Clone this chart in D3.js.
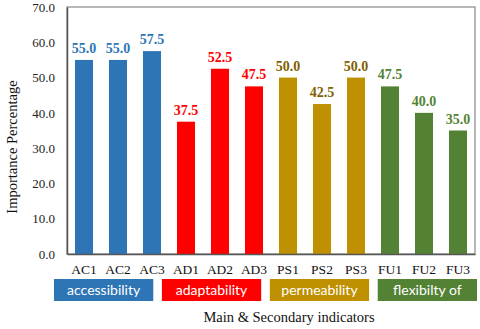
<!DOCTYPE html>
<html>
<head>
<meta charset="utf-8">
<script src="https://cdn.jsdelivr.net/npm/d3@7"></script>
<style>
  body { margin: 0; background: #fff; }
  svg { display: block; }
</style>
</head>
<body>
<div id="chart"></div>
<script>
// indicators, grouped three per main criterion
var categories = ["AC1", "AC2", "AC3", "AD1", "AD2", "AD3", "PS1", "PS2", "PS3", "FU1", "FU2", "FU3"];
var values = [55.0, 55.0, 57.5, 37.5, 52.5, 47.5, 50.0, 42.5, 50.0, 47.5, 40.0, 35.0];
var groups = ["accessibility", "adaptability", "permeability", "flexibilty of"];
var groupOf = ["accessibility", "accessibility", "accessibility",
    "adaptability", "adaptability", "adaptability",
    "permeability", "permeability", "permeability",
    "flexibilty of", "flexibilty of", "flexibilty of"];
var yTicks = [0, 10, 20, 30, 40, 50, 60, 70];

var width = 480;
var height = 329;
var margin = {top: 7, right: 5, bottom: 75, left: 67};

var barColor = d3.scaleOrdinal()
    .domain(groups)
    .range(["#2e75b6", "#ff0000", "#bf9000", "#548235"]);
var labelColor = d3.scaleOrdinal()
    .domain(groups)
    .range(["#2e75b6", "#ff0000", "#7f6000", "#548235"]);

var svg = d3.select('#chart')
    .append('svg')
    .attr('width', width)
    .attr('height', height);

var x = d3.scaleBand()
    .domain(categories)
    .range([margin.left, width - margin.right])
    .paddingInner(0.47)
    .paddingOuter(0.235);

var y = d3.scaleLinear()
    .domain([0, 70])
    .range([height - margin.bottom, margin.top]);

// plot frame
svg.append('rect')
    .attr('x', margin.left)
    .attr('y', margin.top)
    .attr('width', width - margin.right - margin.left)
    .attr('height', y(0) - margin.top)
    .attr('fill', 'none')
    .attr('stroke', '#888')
    .attr('stroke-width', 1.2);

var data = categories.map(function (c, i) {
    return {name: c, value: values[i], group: groupOf[i]};
});

svg.selectAll('.bar')
    .data(data)
    .enter()
    .append('rect')
    .attr('class', 'bar')
    .attr('x', function (d) { return x(d.name); })
    .attr('y', function (d) { return y(d.value); })
    .attr('width', x.bandwidth())
    .attr('height', function (d) { return y(0) - y(d.value); })
    .attr('fill', function (d) { return barColor(d.group); });

svg.selectAll('.val')
    .data(data)
    .enter()
    .append('text')
    .attr('class', 'val')
    .attr('x', function (d) { return x(d.name) + x.bandwidth() / 2; })
    .attr('y', function (d) { return y(d.value) - 7; })
    .attr('text-anchor', 'middle')
    .style('font-family', '"Liberation Serif", serif')
    .style('font-weight', 'bold')
    .style('font-size', '14px')
    .attr('fill', function (d) { return labelColor(d.group); })
    .text(function (d) { return d.value.toFixed(1); });

// y axis
var yAxis = svg.append('g')
    .attr('transform', 'translate(' + margin.left + ',0)')
    .call(d3.axisLeft(y).tickValues(yTicks).tickSize(0).tickPadding(12)
        .tickFormat(function (d) { return d.toFixed(1); }));
yAxis.select('.domain').attr('stroke', '#555').attr('stroke-width', 1.5);
yAxis.selectAll('text')
    .style('font-family', '"Liberation Serif", serif')
    .style('font-size', '13px')
    .attr('fill', '#222');

// x axis
var xAxis = svg.append('g')
    .attr('transform', 'translate(0,' + y(0) + ')')
    .call(d3.axisBottom(x).tickSize(0).tickPadding(10));
xAxis.select('.domain').attr('stroke', '#555').attr('stroke-width', 1.5);
xAxis.selectAll('text')
    .style('font-family', '"Liberation Serif", serif')
    .style('font-size', '13.5px')
    .attr('fill', '#111');

// main criteria boxes under the axis
var gx = d3.scaleBand()
    .domain(groups)
    .range([54, 477])
    .paddingInner(0.08);

var box = svg.selectAll('.grp')
    .data(groups)
    .enter()
    .append('g')
    .attr('class', 'grp');

box.append('rect')
    .attr('x', function (d) { return gx(d); })
    .attr('y', 279)
    .attr('width', gx.bandwidth())
    .attr('height', 22)
    .attr('fill', function (d) { return barColor(d); });

box.append('text')
    .attr('x', function (d) { return gx(d) + gx.bandwidth() / 2; })
    .attr('y', 295)
    .attr('text-anchor', 'middle')
    .style('font-family', 'Lato, sans-serif')
    .style('font-size', '14px')
    .attr('fill', '#fff')
    .text(function (d) { return d; });

// axis titles
svg.append('text')
    .attr('x', 289)
    .attr('y', 322)
    .attr('text-anchor', 'middle')
    .style('font-family', '"Liberation Serif", serif')
    .style('font-size', '14.5px')
    .attr('fill', '#111')
    .text('Main & Secondary indicators');

svg.append('text')
    .attr('transform', 'translate(17,147) rotate(-90)')
    .attr('text-anchor', 'middle')
    .style('font-family', '"Liberation Serif", serif')
    .style('font-size', '14.5px')
    .attr('fill', '#111')
    .text('Importance Percentage');
</script>
</body>
</html>
